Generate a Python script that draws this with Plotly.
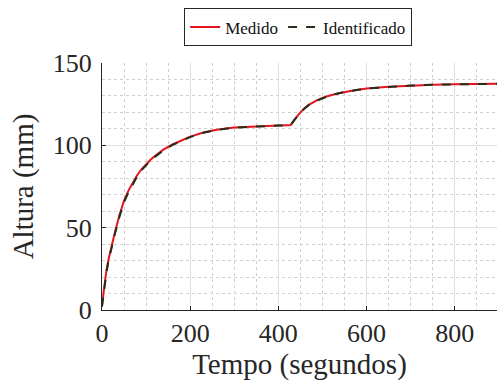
import plotly.graph_objects as go

tiempo = [0, 3, 6, 10, 15, 20, 25, 30, 40, 50, 60, 70, 80, 90, 100, 110, 120, 140, 160, 180, 200, 230, 260,
          300, 350, 400, 420, 428, 435, 442, 450, 460, 470, 485, 500, 515, 530, 560, 600, 650, 700, 750, 800, 850, 900]
medido = [3, 10, 17, 24, 31, 37, 43, 48, 58, 66.5, 72.5, 77.5, 82, 85.5, 88.6, 91.2, 93.5, 97.5, 100.5, 103, 105.3,
          107.8, 109.5, 110.8, 111.6, 112, 112.2, 112.3, 115, 117.6, 120, 122.6, 124.8, 127, 128.8, 130.1, 131.2,
          132.9, 134.5, 135.6, 136.3, 136.8, 137.1, 137.3, 137.4]
identificado = [2, 8.5, 15.5, 22.5, 30, 36, 42, 47, 57, 65.5, 71.5, 76.8, 81.2, 85, 88, 90.7, 93, 97, 100.3, 102.8, 105,
                107.6, 109.4, 110.8, 111.6, 112, 112.2, 112.3, 114.9, 117.5, 119.9, 122.5, 124.7, 126.9, 128.7, 130.1,
                131.2, 132.9, 134.5, 135.6, 136.3, 136.8, 137.1, 137.3, 137.4]

FONT = "Liberation Serif"
TXT = "#262626"

fig = go.Figure()
fig.add_trace(go.Scatter(x=tiempo, y=medido, mode="lines", name="Medido",
                         line=dict(color="#e3141c", width=2)))
fig.add_trace(go.Scatter(x=tiempo, y=identificado, mode="lines", name="Identificado",
                         line=dict(color="#25301c", width=2, dash="dash")))

fig.update_layout(
    width=497, height=381,
    margin=dict(l=102, r=0, t=63, b=71),
    paper_bgcolor="white", plot_bgcolor="white",
    font=dict(family=FONT, color=TXT),
    showlegend=True,
    legend=dict(orientation="h", x=0.6, xref="container", xanchor="center",
                y=0.978, yref="container", yanchor="top",
                bordercolor=TXT, borderwidth=1, bgcolor="white",
                font=dict(family=FONT, size=17, color="#111111"),
                itemwidth=30, tracegroupgap=0),
    xaxis=dict(range=[0, 896], tickvals=[0, 200, 400, 600, 800], automargin=False,
               ticks="inside", ticklen=4, tickcolor=TXT,
               showline=True, linecolor=TXT, linewidth=1,
               showgrid=True, gridcolor="#dfdfdf", gridwidth=1,
               minor=dict(dtick=50, showgrid=True, gridcolor="#d0d0d0", griddash="dot", gridwidth=1),
               tickfont=dict(family=FONT, size=26, color=TXT),
               title=dict(text="Tempo (segundos)", font=dict(family=FONT, size=29, color=TXT), standoff=0),
               zeroline=False, mirror=False),
    yaxis=dict(range=[0, 150], tickvals=[0, 50, 100, 150], automargin=False,
               ticks="inside", ticklen=4, tickcolor=TXT, ticklabelstandoff=4,
               showline=True, linecolor=TXT, linewidth=1,
               showgrid=True, gridcolor="#dfdfdf", gridwidth=1,
               minor=dict(dtick=10, showgrid=True, gridcolor="#d0d0d0", griddash="dot", gridwidth=1),
               tickfont=dict(family=FONT, size=26, color=TXT),
               title=dict(text="Altura (mm)", font=dict(family=FONT, size=29, color=TXT), standoff=10),
               zeroline=False, mirror=False),
)

fig.write_html(
    "out.html",
    config={"displayModeBar": False},
    post_script="document.body.style.margin='0';document.body.style.overflow='hidden';",
)
